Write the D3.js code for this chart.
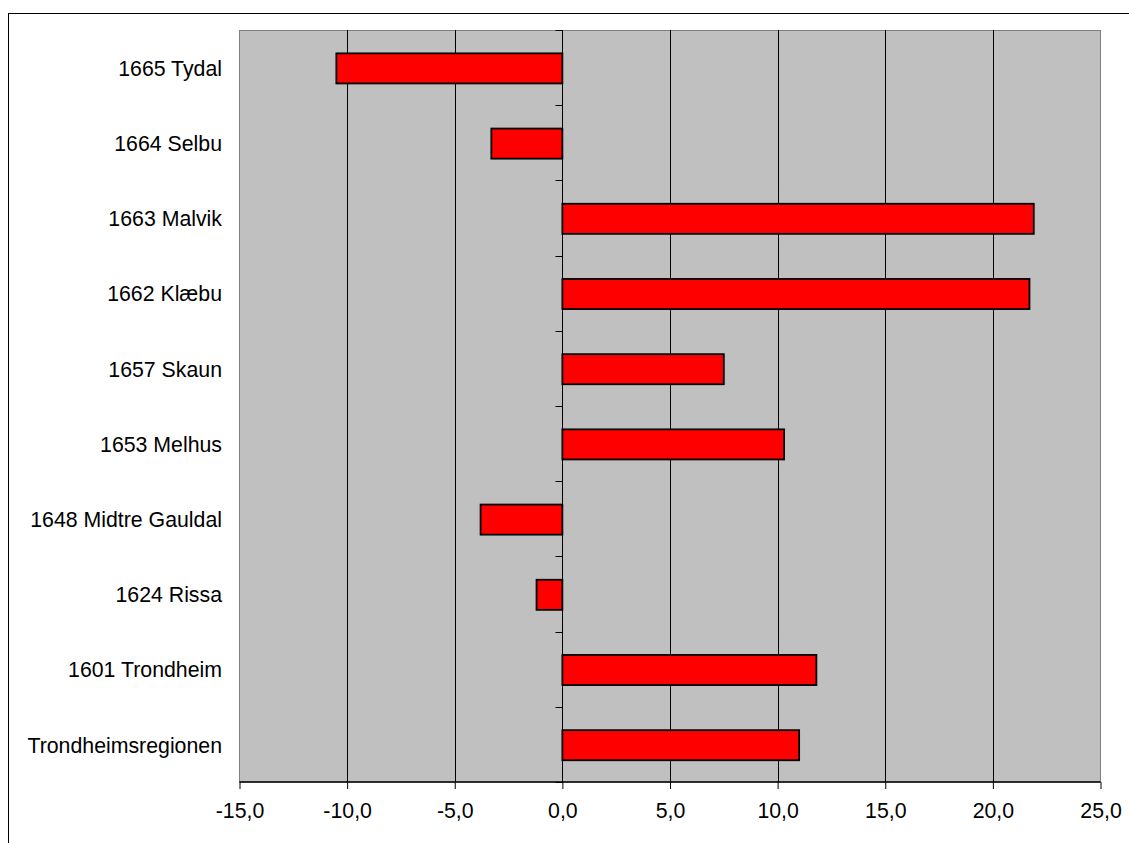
<!DOCTYPE html>
<html>
<head>
<meta charset="utf-8">
<script src="https://cdn.jsdelivr.net/npm/d3@7"></script>
<style>
  html, body { margin: 0; padding: 0; background: #fff; }
  svg { display: block; }
  text { font-family: "Liberation Sans", Arial, sans-serif; fill: #000; }
</style>
</head>
<body>
<svg id="chart" width="1129" height="843"></svg>
<script>
const categories = [
  "1665 Tydal",
  "1664 Selbu",
  "1663 Malvik",
  "1662 Klæbu",
  "1657 Skaun",
  "1653 Melhus",
  "1648 Midtre Gauldal",
  "1624 Rissa",
  "1601 Trondheim",
  "Trondheimsregionen"
];
const values = [-10.5, -3.3, 21.9, 21.7, 7.5, 10.3, -3.8, -1.2, 11.8, 11.0];
const xTicks = [-15, -10, -5, 0, 5, 10, 15, 20, 25];
const xTickLabels = ["-15,0", "-10,0", "-5,0", "0,0", "5,0", "10,0", "15,0", "20,0", "25,0"];

const svg = d3.select("#chart");
const plot = { left: 239.5, right: 1100.5, top: 30, bottom: 782 };

// outer frame
svg.append("rect")
  .attr("x", 8.5).attr("y", 13.5)
  .attr("width", 1200).attr("height", 1000)
  .attr("fill", "#fff").attr("stroke", "#000").attr("stroke-width", 1);

const x = d3.scaleLinear().domain([-15, 25]).range([plot.left, plot.right]);
const y = d3.scaleBand().domain(categories).range([plot.top + 0.8, plot.bottom + 0.8])
  .paddingInner(0.6).paddingOuter(0.3);

// plot area background
svg.append("rect")
  .attr("x", plot.left).attr("y", plot.top + 0.5)
  .attr("width", plot.right - plot.left).attr("height", plot.bottom - plot.top - 0.5)
  .attr("fill", "#c0c0c0").attr("stroke", "#808080").attr("stroke-width", 1);

// vertical gridlines
svg.append("g").selectAll("line").data(xTicks.filter(d => d !== -15 && d !== 25)).join("line")
  .attr("x1", d => Math.round(x(d)) + 0.5).attr("x2", d => Math.round(x(d)) + 0.5)
  .attr("y1", plot.top).attr("y2", plot.bottom)
  .attr("stroke", "#000").attr("stroke-width", 1);

// bars
svg.append("g").selectAll("rect").data(categories).join("rect")
  .attr("x", (d, i) => x(Math.min(0, values[i])))
  .attr("y", d => y(d))
  .attr("width", (d, i) => Math.abs(x(values[i]) - x(0)))
  .attr("height", y.bandwidth())
  .attr("fill", "#ff0000").attr("stroke", "#000").attr("stroke-width", 1.8);

// x axis
const xAxis = d3.axisBottom(x).tickValues(xTicks)
  .tickFormat((d, i) => xTickLabels[i]).tickSize(7).tickPadding(14);
const gx = svg.append("g").attr("transform", `translate(0,${plot.bottom})`).call(xAxis);
gx.select(".domain").attr("stroke", "#000").attr("stroke-width", 1.5)
  .attr("d", `M${plot.left},0H${plot.right}`);
gx.selectAll(".tick line").attr("stroke", "#000").attr("stroke-width", 1);
gx.selectAll(".tick text").style("font-size", "21.3px").style("font-family", '"Liberation Sans", Arial, sans-serif').attr("fill", "#000");

// y axis at zero (category separator ticks)
const zeroX = Math.round(x(0)) + 0.5;
const step = y.step();
const sepYs = d3.range(categories.length + 1).map(i => plot.top + i * step);
svg.append("g").selectAll("line").data(sepYs).join("line")
  .attr("x1", zeroX - 7).attr("x2", zeroX)
  .attr("y1", d => Math.round(d) + 0.5).attr("y2", d => Math.round(d) + 0.5)
  .attr("stroke", "#000").attr("stroke-width", 1);

// category labels
svg.append("g").selectAll("text").data(categories).join("text")
  .attr("x", 222)
  .attr("y", d => y(d) + y.bandwidth() / 2)
  .attr("dy", "0.35em")
  .attr("text-anchor", "end")
  .style("font-size", "21.3px")
  .text(d => d);
</script>
</body>
</html>
